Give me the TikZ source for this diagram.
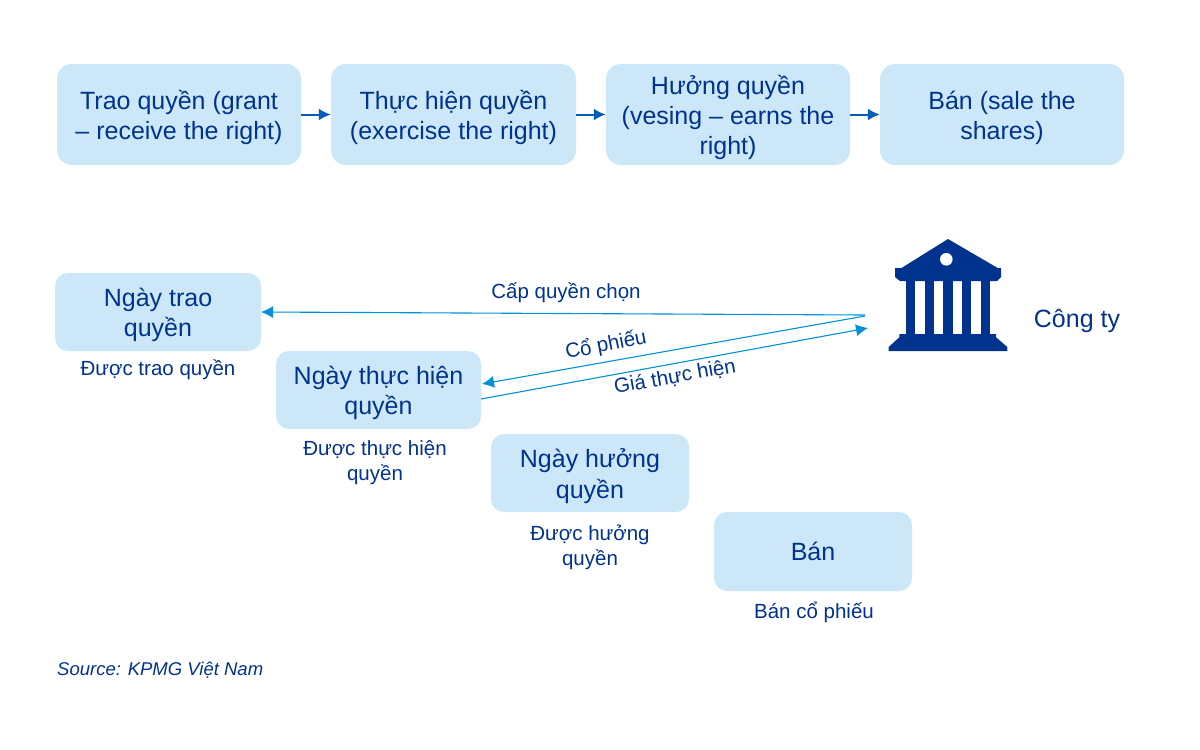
\documentclass[tikz,border=0pt]{standalone}
\usepackage{fontspec}
\setmainfont{Liberation Sans}
\usetikzlibrary{arrows.meta}
\definecolor{kblue}{HTML}{00338D}
\definecolor{kfill}{HTML}{CCE8F8}
\definecolor{karrow}{HTML}{0091DA}
\definecolor{kdark}{HTML}{005EB8}
\tikzset{
  x=1pt,y=-1pt,
  bigbox/.style={fill=kfill,rounded corners=15pt,inner sep=0pt},
  smallbox/.style={bigbox,rounded corners=13pt},
  boxtext/.style={text=kblue,align=center,inner sep=0pt,yshift=-3.2pt,
    font=\fontsize{25}{30.2}\selectfont},
  caption/.style={text=kblue,align=center,inner sep=0pt,font=\fontsize{20.5}{25}\selectfont},
  darrow/.style={draw=kdark,line width=2pt,-{Latex[length=12pt,width=12pt]}},
  larrow/.style={draw=karrow,line width=1.1pt,-{Latex[length=12pt,width=12pt]}},
  icon/.style={fill=kblue,draw=none}
}
\begin{document}
\begin{tikzpicture}
\useasboundingbox (0,0) rectangle (1200,750);
% top row
\node[bigbox,minimum width=244pt,minimum height=101pt,label={[boxtext]center:{Trao quyền (grant\\– receive the right)}}] (a1) at (179,114.5) {};
\node[bigbox,minimum width=245pt,minimum height=101pt,label={[boxtext]center:{Thực hiện quyền\\(exercise the right)}}] (a2) at (453.5,114.5) {};
\node[bigbox,minimum width=244pt,minimum height=101pt,label={[boxtext]center:{Hưởng quyền\\(vesing – earns the\\right)}}] (a3) at (728,114.5) {};
\node[bigbox,minimum width=244pt,minimum height=101pt,label={[boxtext]center:{Bán (sale the\\shares)}}] (a4) at (1002,114.5) {};
\draw[darrow] (a1) -- (a2);
\draw[darrow] (a2) -- (a3);
\draw[darrow] (a3) -- (a4);
% lower boxes
\node[smallbox,minimum width=206pt,minimum height=78pt,label={[boxtext]center:{Ngày trao\\quyền}}] (b1) at (158,312) {};
\node[smallbox,minimum width=205pt,minimum height=78pt,label={[boxtext]center:{Ngày thực hiện\\quyền}}] (b2) at (378.5,390) {};
\node[smallbox,minimum width=198pt,minimum height=78pt,label={[boxtext]center:{Ngày hưởng\\quyền}}] (b3) at (590,473) {};
\node[smallbox,minimum width=198pt,minimum height=79pt,label={[boxtext,yshift=3.2pt]center:{Bán}}] (b4) at (813,551.5) {};
% captions
\node[caption] (c1) at (158,370) {Được trao quyền};
\node[caption] (c2) at (375,463) {Được thực hiện\\quyền};
\node[caption] (c3) at (590,547) {Được hưởng\\quyền};
\node[caption] (c4) at (814,612) {Bán cổ phiếu};
\node[caption] (cty) at (1077,321) {\fontsize{25}{30}\selectfont Công ty};
\node[caption,anchor=west] (src) at (57,670) {\fontsize{18.5}{22}\selectfont\itshape Source: KPMG Việt Nam};
% company icon
\path[icon] (948,239) -- (997.7,268) -- (1001,268) -- (1001,277) -- (997,281) -- (900,281) -- (895,277) -- (895,268) -- (901.5,268) -- cycle;
\fill[white] (946.3,259.3) circle (6.3);
\foreach \l/\r in {905.7/915,924.7/934,943.3/952.7,962.3/971.3,981/990.3}
  \path[icon] (\l,280) rectangle (\r,335);
\path[icon] (899.3,334) -- (996,334) -- (996,337.3) -- (1007.3,347) -- (1007.3,351) -- (888.7,351) -- (888.7,347) -- (899.3,337.3) -- cycle;
% connector ends at the company
\coordinate (k1) at (865,315);
\coordinate (k2) at (865,316);
\coordinate (k3) at (868,328);
\coordinate (t1) at (261,312);
\coordinate (t2) at (482,384);
\coordinate (f3) at (481,399);
\draw[larrow] (k1) -- (t1);
\draw[larrow] (k2) -- (t2);
\draw[larrow] (f3) -- (k3);
% arrow labels
\node[caption] (l1) at (566,293) {Cấp quyền chọn};
\node[caption,rotate=11] (l2) at (606,345) {Cổ phiếu};
\node[caption,rotate=10] (l3) at (675,377) {Giá thực hiện};
\end{tikzpicture}
\end{document}
